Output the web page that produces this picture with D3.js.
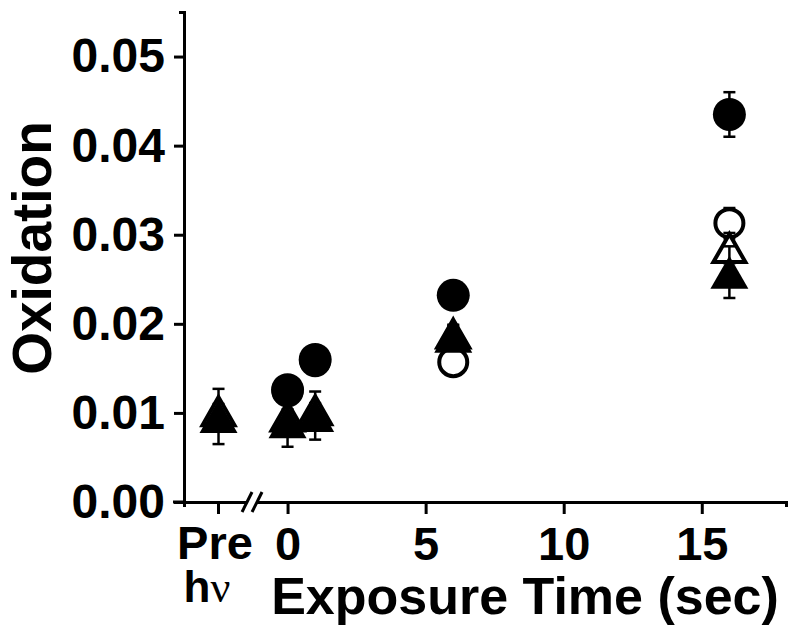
<!DOCTYPE html>
<html>
<head>
<meta charset="utf-8">
<script src="https://cdn.jsdelivr.net/npm/d3@7"></script>
<style>
  body { margin: 0; background: #fff; }
  svg text { font-family: "Liberation Sans", Arial, sans-serif; font-weight: bold; fill: #000; }
</style>
</head>
<body>
<div id="chart"></div>
<script>

/*********** DONNEES ***********/

// temps d'exposition (sec), "Pre hv" placé à -2.5 sur l'axe
const preX = -2.5
const tempsCercles = [0, 1, 6, 16]
const tempsTriangles = [preX, 0, 1, 6, 16]

const cercleplein = [0.0126, 0.0160, 0.0232, 0.0435]
const cerclepleinErr = [0.0008, 0.0008, 0.0008, 0.0025]

const cerclevide = [0.0124, 0.0158, 0.0157, 0.0313]
const cerclevideErr = [0.0008, 0.0008, 0.0010, 0.0017]

const trianglevide = [0.0102, 0.0096, 0.0103, 0.0189, 0.0285]
const trianglevideErr = [0.0008, 0.0008, 0.0008, 0.0010, 0.0017]

const trianglepleins = [0.0096, 0.0090, 0.0097, 0.0186, 0.0258]
const trianglepleinsErr = [0.0031, 0.0028, 0.0027, 0.0012, 0.0029]

const yTicks = [0, 0.01, 0.02, 0.03, 0.04, 0.05]
const yMinor = [0.005, 0.015, 0.025, 0.035, 0.045]
const xTicks = [0, 5, 10, 15]
const xMinor = d3.range(0, 19)


/*********** GRAPHIQUE ***********/

const width = 800, height = 635

const svg = d3.select("#chart").append("svg")
    .attr("width", width)
    .attr("height", height)

const x = d3.scaleLinear().domain([-3.75, 18.05]).range([184, 786])
const y = d3.scaleLinear().domain([0, 0.055]).range([502, 12])

// axe Y
const axeY = svg.append("g")
    .attr("transform", "translate(" + x(-3.75) + ",0)")

axeY.call(d3.axisLeft(y).tickValues(yMinor).tickSize(6).tickFormat("").tickSizeOuter(0))
axeY.call(d3.axisLeft(y).tickValues(yTicks).tickSize(10).tickPadding(9).tickSizeOuter(5)
    .tickFormat(d3.format(".2f")))
axeY.selectAll("text").style("font-size", "48px")

// axe X
const axeX = svg.append("g")
    .attr("transform", "translate(0," + y(0) + ")")

axeX.call(d3.axisBottom(x).tickValues(xMinor).tickSize(6).tickFormat("").tickSizeOuter(0))
axeX.call(d3.axisBottom(x).tickValues(xTicks).tickSize(12).tickPadding(13).tickSizeOuter(5)
    .tickFormat(d3.format("d")))
axeX.selectAll("text").style("font-size", "47px")

// tick "Pre"
axeX.append("line")
    .attr("x1", x(preX)).attr("x2", x(preX))
    .attr("y1", 0).attr("y2", 12)
    .attr("stroke", "#000")

axeX.selectAll("path, line").attr("stroke-width", 3)
axeY.selectAll("path, line").attr("stroke-width", 3)

// prolongement à gauche de l'axe x
svg.append("line")
    .attr("x1", 173).attr("x2", x(-3.75))
    .attr("y1", y(0)).attr("y2", y(0))
    .attr("stroke", "#000").attr("stroke-width", 3)

// coupure //
const xCoupure = x(-1.25)
svg.append("rect")
    .attr("x", xCoupure - 6).attr("y", y(0) - 3)
    .attr("width", 10).attr("height", 6)
    .attr("fill", "#fff")
for (let dx of [-6, 4]) {
    svg.append("line")
        .attr("x1", xCoupure + dx - 5).attr("y1", y(0) + 10)
        .attr("x2", xCoupure + dx + 5).attr("y2", y(0) - 10)
        .attr("stroke", "#000").attr("stroke-width", 3)
}

// labels
svg.append("text")
    .attr("x", 215).attr("y", 559)
    .attr("text-anchor", "middle")
    .style("font-size", "47px")
    .text("Pre")
let hv = svg.append("text")
    .attr("x", 207).attr("y", 602)
    .attr("text-anchor", "middle")
    .style("font-size", "44px")
hv.append("tspan").text("h")
hv.append("tspan")
    .style("font-family", "'Liberation Serif', 'Times New Roman', serif")
    .style("font-weight", "normal")
    .text("ν")

svg.append("text")
    .attr("x", 525).attr("y", 614)
    .attr("text-anchor", "middle")
    .style("font-size", "52px")
    .text("Exposure Time (sec)")

svg.append("text")
    .attr("transform", "translate(51,248) rotate(-90)")
    .attr("text-anchor", "middle")
    .style("font-size", "55px")
    .text("Oxidation")


/*********** POINTS ***********/

function makeSeries(temps, valeurs, erreurs) {
    return temps.map((t, i) => ({ t: t, v: valeurs[i], e: erreurs[i] }))
}

function trianglePath(h, w) {
    return d3.line()([[0, -h / 2], [w / 2, h / 2], [-w / 2, h / 2]]) + "Z"
}

function drawErrors(data) {
    let g = svg.append("g").attr("stroke", "#000").attr("stroke-width", 2.5)
    for (let d of data) {
        g.append("line")
            .attr("x1", x(d.t)).attr("x2", x(d.t))
            .attr("y1", y(d.v - d.e)).attr("y2", y(d.v + d.e))
        for (let v of [d.v - d.e, d.v + d.e]) {
            g.append("line")
                .attr("x1", x(d.t) - 6).attr("x2", x(d.t) + 6)
                .attr("y1", y(v)).attr("y2", y(v))
        }
    }
}

function drawCircles(data, plein) {
    drawErrors(data)
    svg.append("g").selectAll("circle")
        .data(data)
        .enter()
        .append("circle")
        .attr("cx", d => x(d.t))
        .attr("cy", d => y(d.v))
        .attr("r", plein ? 16.5 : 14)
        .attr("fill", plein ? "#000" : "#fff")
        .attr("stroke", "#000")
        .attr("stroke-width", plein ? 0 : 4)
}

function drawTriangles(data, plein) {
    drawErrors(data)
    svg.append("g").selectAll("path")
        .data(data)
        .enter()
        .append("path")
        .attr("transform", d => "translate(" + x(d.t) + "," + y(d.v) + ")")
        .attr("d", plein ? trianglePath(33, 38) : trianglePath(28, 32))
        .attr("fill", plein ? "#000" : "#fff")
        .attr("stroke", "#000")
        .attr("stroke-width", plein ? 0 : 4)
}

drawCircles(makeSeries(tempsCercles, cerclevide, cerclevideErr), false)
drawCircles(makeSeries(tempsCercles, cercleplein, cerclepleinErr), true)
drawTriangles(makeSeries(tempsTriangles, trianglevide, trianglevideErr), false)
drawTriangles(makeSeries(tempsTriangles, trianglepleins, trianglepleinsErr), true)

</script>
</body>
</html>
